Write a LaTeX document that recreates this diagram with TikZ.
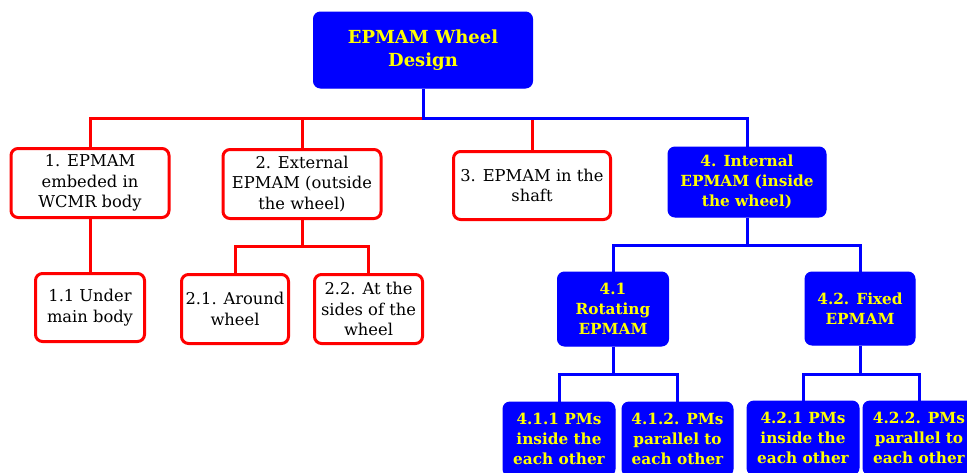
\documentclass[tikz,border=0pt]{standalone}
\usepackage{fontspec}
\setmainfont{DejaVu Serif}
\definecolor{bblue}{RGB}{0,0,255}
\definecolor{byellow}{RGB}{255,255,0}
\definecolor{rred}{RGB}{255,0,0}
\tikzset{
  redbox/.style={draw=rred, line width=3pt, fill=white, rounded corners=7pt, align=center, inner sep=0pt,
     font=\fontsize{16.3}{20.5}\selectfont, text=black},
  bluebox/.style={draw=bblue, line width=1pt, fill=bblue, rounded corners=7pt, align=center, inner sep=0pt,
     font=\bfseries\fontsize{15.3}{20}\selectfont, text=byellow},
  rootbox/.style={bluebox, font=\bfseries\fontsize{18}{23}\selectfont},
  redln/.style={draw=rred, line width=3pt},
  blueln/.style={draw=bblue, line width=3pt},
}
\begin{document}
\begin{tikzpicture}[x=1pt,y=-1pt]
\useasboundingbox (0,0) rectangle (967,472);
% level 0
\node[rootbox, minimum width=219pt, minimum height=76pt] (root) at (423,50) {EPMAM Wheel\\Design};
% level 1
\node[redbox, minimum width=158pt, minimum height=69pt] (b1) at (90,183) {1. EPMAM\\embeded in\\WCMR body};
\node[redbox, minimum width=158pt, minimum height=69pt] (b2) at (302,184) {2. External\\EPMAM (outside\\the wheel)};
\node[redbox, minimum width=157pt, minimum height=68pt] (b3) at (532,185.5) {3. EPMAM in the\\shaft};
\node[bluebox, minimum width=158pt, minimum height=70pt] (b4) at (747,182) {4. Internal\\EPMAM (inside\\the wheel)};
% level 2
\node[redbox, minimum width=109pt, minimum height=68pt] (c11) at (90,307.5) {1.1 Under\\main body};
\node[redbox, minimum width=107pt, minimum height=69pt] (c21) at (235,309) {2.1. Around\\wheel};
\node[redbox, minimum width=108pt, minimum height=69pt] (c22) at (368.5,309) {2.2. At the\\sides of the\\wheel};
\node[bluebox, minimum width=111pt, minimum height=74pt] (c41) at (613,309) {4.1\\Rotating\\EPMAM};
\node[bluebox, minimum width=110pt, minimum height=73pt] (c42) at (860,308.5) {4.2. Fixed\\EPMAM};
% level 3
\node[bluebox, minimum width=112pt, minimum height=74pt] (d411) at (559,439) {4.1.1 PMs\\inside the\\each other};
\node[bluebox, minimum width=111pt, minimum height=74pt] (d412) at (677.5,439) {4.1.2. PMs\\parallel to\\each other};
\node[bluebox, minimum width=112pt, minimum height=74pt] (d421) at (803,438) {4.2.1 PMs\\inside the\\each other};
\node[bluebox, minimum width=112pt, minimum height=74pt] (d422) at (919,438) {4.2.2. PMs\\parallel to\\each other};
% connectors
\coordinate (hub) at (423,118);
\coordinate (hub2) at (302,246);
\coordinate (hub4) at (747,245);
\coordinate (hub41) at (613,374);
\coordinate (hub42) at (860,374);
\draw[redln] (b1.north) |- (hub) -| (b3.north);
\draw[redln] (b2.north) -- (b2.north |- hub);
\draw[blueln] (root.south) -- (hub) -| (b4.north);
\draw[redln] (b1.south) -- (c11.north);
\draw[redln] (b2.south) -- (hub2);
\draw[redln] (c21.north) |- (hub2) -| (c22.north);
\draw[blueln] (b4.south) -- (hub4);
\draw[blueln] (c41.north) |- (hub4) -| (c42.north);
\draw[blueln] (c41.south) -- (hub41);
\draw[blueln] (d411.north) |- (hub41) -| (d412.north);
\draw[blueln] (c42.south) -- (hub42);
\draw[blueln] (d421.north) |- (hub42) -| (d422.north);
\end{tikzpicture}
\end{document}
